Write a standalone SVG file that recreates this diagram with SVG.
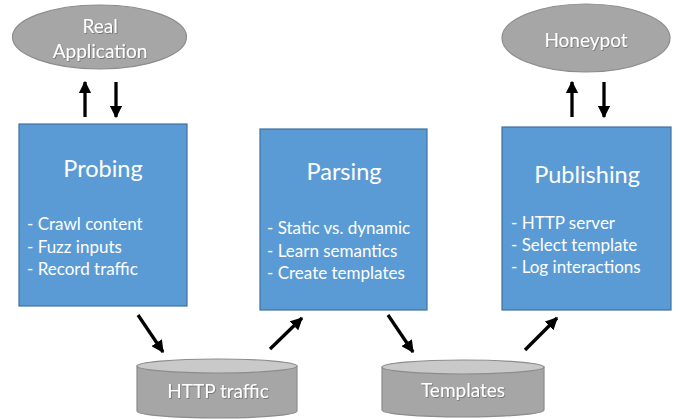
<svg xmlns="http://www.w3.org/2000/svg" width="680" height="419" viewBox="0 0 680 419">
<defs>
<marker id="ah" viewBox="0 0 10 10" refX="9" refY="5" markerWidth="3.8" markerHeight="3.8" orient="auto" markerUnits="strokeWidth">
<path d="M0,0 L10,5 L0,10 z" fill="#000"/>
</marker>
<filter id="sh" x="-10%" y="-10%" width="120%" height="130%">
<feDropShadow dx="0.8" dy="0.8" stdDeviation="0.4" flood-color="#000" flood-opacity="0.35"/>
</filter>
</defs>
<style>
.ell{fill:#A6A6A6;stroke:#8C8C8C;stroke-width:1.2}
.box{fill:#5B9BD5;stroke:#41719C;stroke-width:1.2}
.cylb{fill:#A6A6A6;stroke:#8C8C8C;stroke-width:1.2}
.cylt{fill:#C9C9C9;stroke:#8C8C8C;stroke-width:1.2}
text{font-family:Lato,"Open Sans","Liberation Sans",sans-serif;fill:#fff}
.t{font-size:23.5px;text-anchor:middle}
.b{font-size:17px}
.e{font-size:19px;text-anchor:middle;filter:url(#sh)}
.arr{stroke:#000;stroke-width:3.3;fill:none;marker-end:url(#ah)}
</style>
<g id="real-app">
<ellipse class="ell" cx="99.5" cy="37" rx="87" ry="32"/>
<text class="e" x="100" y="33">Real</text>
<text class="e" x="100" y="58">Application</text>
</g>
<g id="honeypot">
<ellipse class="ell" cx="586" cy="38" rx="84" ry="34"/>
<text class="e" x="586" y="47">Honeypot</text>
</g>
<g id="probing">
<rect class="box" x="19" y="124" width="168" height="182"/>
<text class="t" x="103" y="177">Probing</text>
<text class="b" x="27" y="230">- Crawl content</text>
<text class="b" x="27" y="253">- Fuzz inputs</text>
<text class="b" x="27" y="275">- Record traffic</text>
</g>
<g id="parsing">
<rect class="box" x="260" y="129" width="167" height="181"/>
<text class="t" x="344" y="180">Parsing</text>
<text class="b" x="267" y="234">- Static vs. dynamic</text>
<text class="b" x="267" y="257">- Learn semantics</text>
<text class="b" x="267" y="279">- Create templates</text>
</g>
<g id="publishing">
<rect class="box" x="502" y="127" width="169" height="183"/>
<text class="t" x="587" y="183">Publishing</text>
<text class="b" x="511" y="229">- HTTP server</text>
<text class="b" x="511" y="251">- Select template</text>
<text class="b" x="511" y="273">- Log interactions</text>
</g>
<g id="http-traffic">
<path class="cylb" d="M137,366 L137,411 A80,7 0 0 0 297,411 L297,366 Z"/>
<ellipse class="cylt" cx="217" cy="366" rx="80" ry="7"/>
<text class="e" x="218" y="398">HTTP traffic</text>
</g>
<g id="templates">
<path class="cylb" d="M382,367 L382,410 A81,7 0 0 0 544,410 L544,367 Z"/>
<ellipse class="cylt" cx="463" cy="367" rx="81" ry="7"/>
<text class="e" x="463" y="397">Templates</text>
</g>
<g id="connectors">
<line class="arr" x1="85" y1="117" x2="85" y2="82"/>
<line class="arr" x1="116" y1="82" x2="116" y2="117"/>
<line class="arr" x1="572" y1="117" x2="572" y2="82"/>
<line class="arr" x1="604" y1="82" x2="604" y2="117"/>
<line class="arr" x1="138" y1="315" x2="163" y2="352"/>
<line class="arr" x1="270" y1="349" x2="302" y2="318"/>
<line class="arr" x1="388" y1="315" x2="413" y2="352"/>
<line class="arr" x1="525" y1="350" x2="557" y2="318"/>
</g>
</svg>
